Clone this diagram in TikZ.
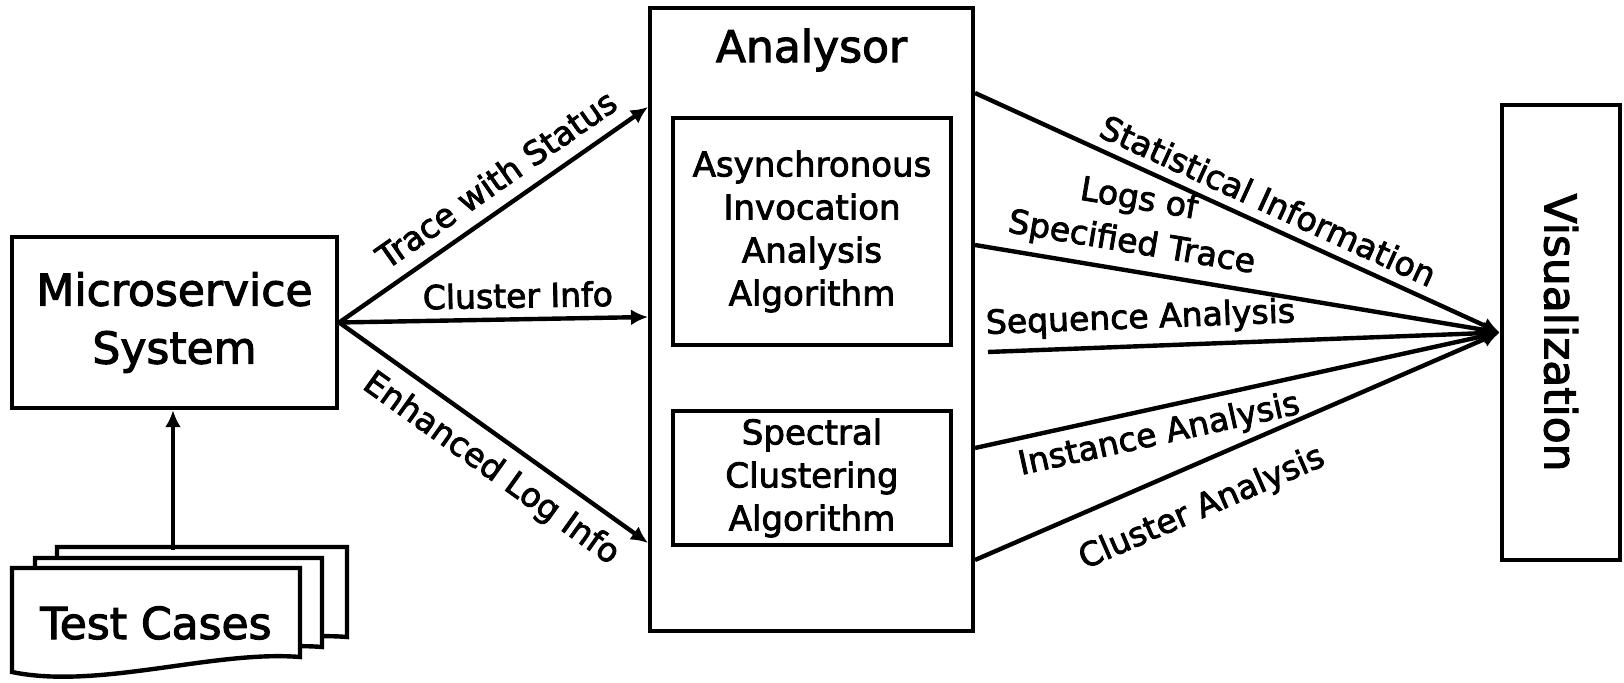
\documentclass[tikz,border=0pt]{standalone}
\usepackage{fontspec}
\setmainfont{DejaVu Sans}[FakeBold=2.5]
\usetikzlibrary{arrows.meta}

\tikzset{
  block/.style={
    draw,
    rectangle,
    line width=2.2pt,
    inner sep=2pt,
    text centered,
    align=center,
    font=\fontsize{22}{29}\selectfont
  },
  algo/.style={
    draw,
    rectangle,
    line width=1.6pt,
    inner sep=0pt,
    text centered,
    align=center,
    font=\fontsize{17}{21.5}\selectfont
  },
  flow/.style={
    line width=2.2pt,
    -{Latex[length=8.5pt,width=8pt]}
  },
  tag/.style={
    sloped,
    inner sep=4.5pt,
    align=center,
    font=\fontsize{16.5}{22}\selectfont
  },
  doc/.style={draw, line width=2.2pt, fill=white},
}

\begin{document}
\begin{tikzpicture}[x=0.5pt, y=-0.5pt]
  \useasboundingbox (0,0) rectangle (1624,683);
  % stacked test case sheets
  \draw[doc] (57,547) -- (347,547) -- (347,637) .. controls (261,630) and (145,670) .. (57,652) -- cycle;
  \draw[doc] (35,558) -- (322,558) -- (322,647) .. controls (236,640) and (121,680) .. (35,662) -- cycle;
  \draw[doc] (12,568) -- (300,568) -- (300,657) .. controls (214,650) and (98,690) .. (12,672) -- cycle;
  \node[font=\fontsize{22}{29}\selectfont] (tests) at (156,623) {Test Cases};
  \coordinate (tctop) at (173,550);

  \node[block, minimum width=162.5pt, minimum height=85.5pt] (micro) at (174.5,322.5) {Microservice\\System};
  \node[block, minimum width=161.5pt, minimum height=311.5pt] (analysor) at (811.5,319.5) {};
  \node[font=\fontsize{22}{29}\selectfont] (title) at (811.5,50) {Analysor};
  \node[algo, minimum width=139pt, minimum height=113.5pt] (async) at (812,231.5) {Asynchronous\\Invocation\\Analysis\\Algorithm};
  \node[algo, minimum width=139pt, minimum height=67pt] (spectral) at (812,478) {Spectral\\Clustering\\Algorithm};
  \node[block, minimum width=59pt, minimum height=227.5pt] (viz) at (1561,332.5) {};
  \node[rotate=-90, font=\fontsize{22}{29}\selectfont] (viztext) at (viz.center) {Visualization};

  % ends on the analysor border
  \coordinate (t1) at (648,107);
  \coordinate (t2) at (648,317);
  \coordinate (t3) at (648,543);
  \coordinate (s1) at (975,93);
  \coordinate (s2) at (975,245);
  \coordinate (s3) at (988,352);
  \coordinate (s4) at (975,448);
  \coordinate (s5) at (975,560);

  \draw[flow] (tctop) -- (tctop |- micro.south);
  \draw[flow] (micro.east) -- node[tag, above=2pt, pos=0.56] {Trace with Status} (t1);
  \draw[flow] (micro.east) -- node[tag, above, pos=0.58] {Cluster Info} (t2);
  \draw[flow] (micro.east) -- node[tag, below=2pt, pos=0.55] {Enhanced Log Info} (t3);

  \draw[flow] (s1) -- node[tag, above, pos=0.54] {Statistical Information} (viz.west);
  \draw[flow] (s2) -- node[tag, above, pos=0.29] {Logs of\\Specified Trace} (viz.west);
  \draw[flow] (s3) -- node[tag, above, pos=0.30] {Sequence Analysis} (viz.west);
  \draw[flow] (s4) -- node[tag, below, pos=0.34] {Instance Analysis} (viz.west);
  \draw[flow] (s5) -- node[tag, below=8pt, pos=0.40] {Cluster Analysis} (viz.west);
\end{tikzpicture}
\end{document}
